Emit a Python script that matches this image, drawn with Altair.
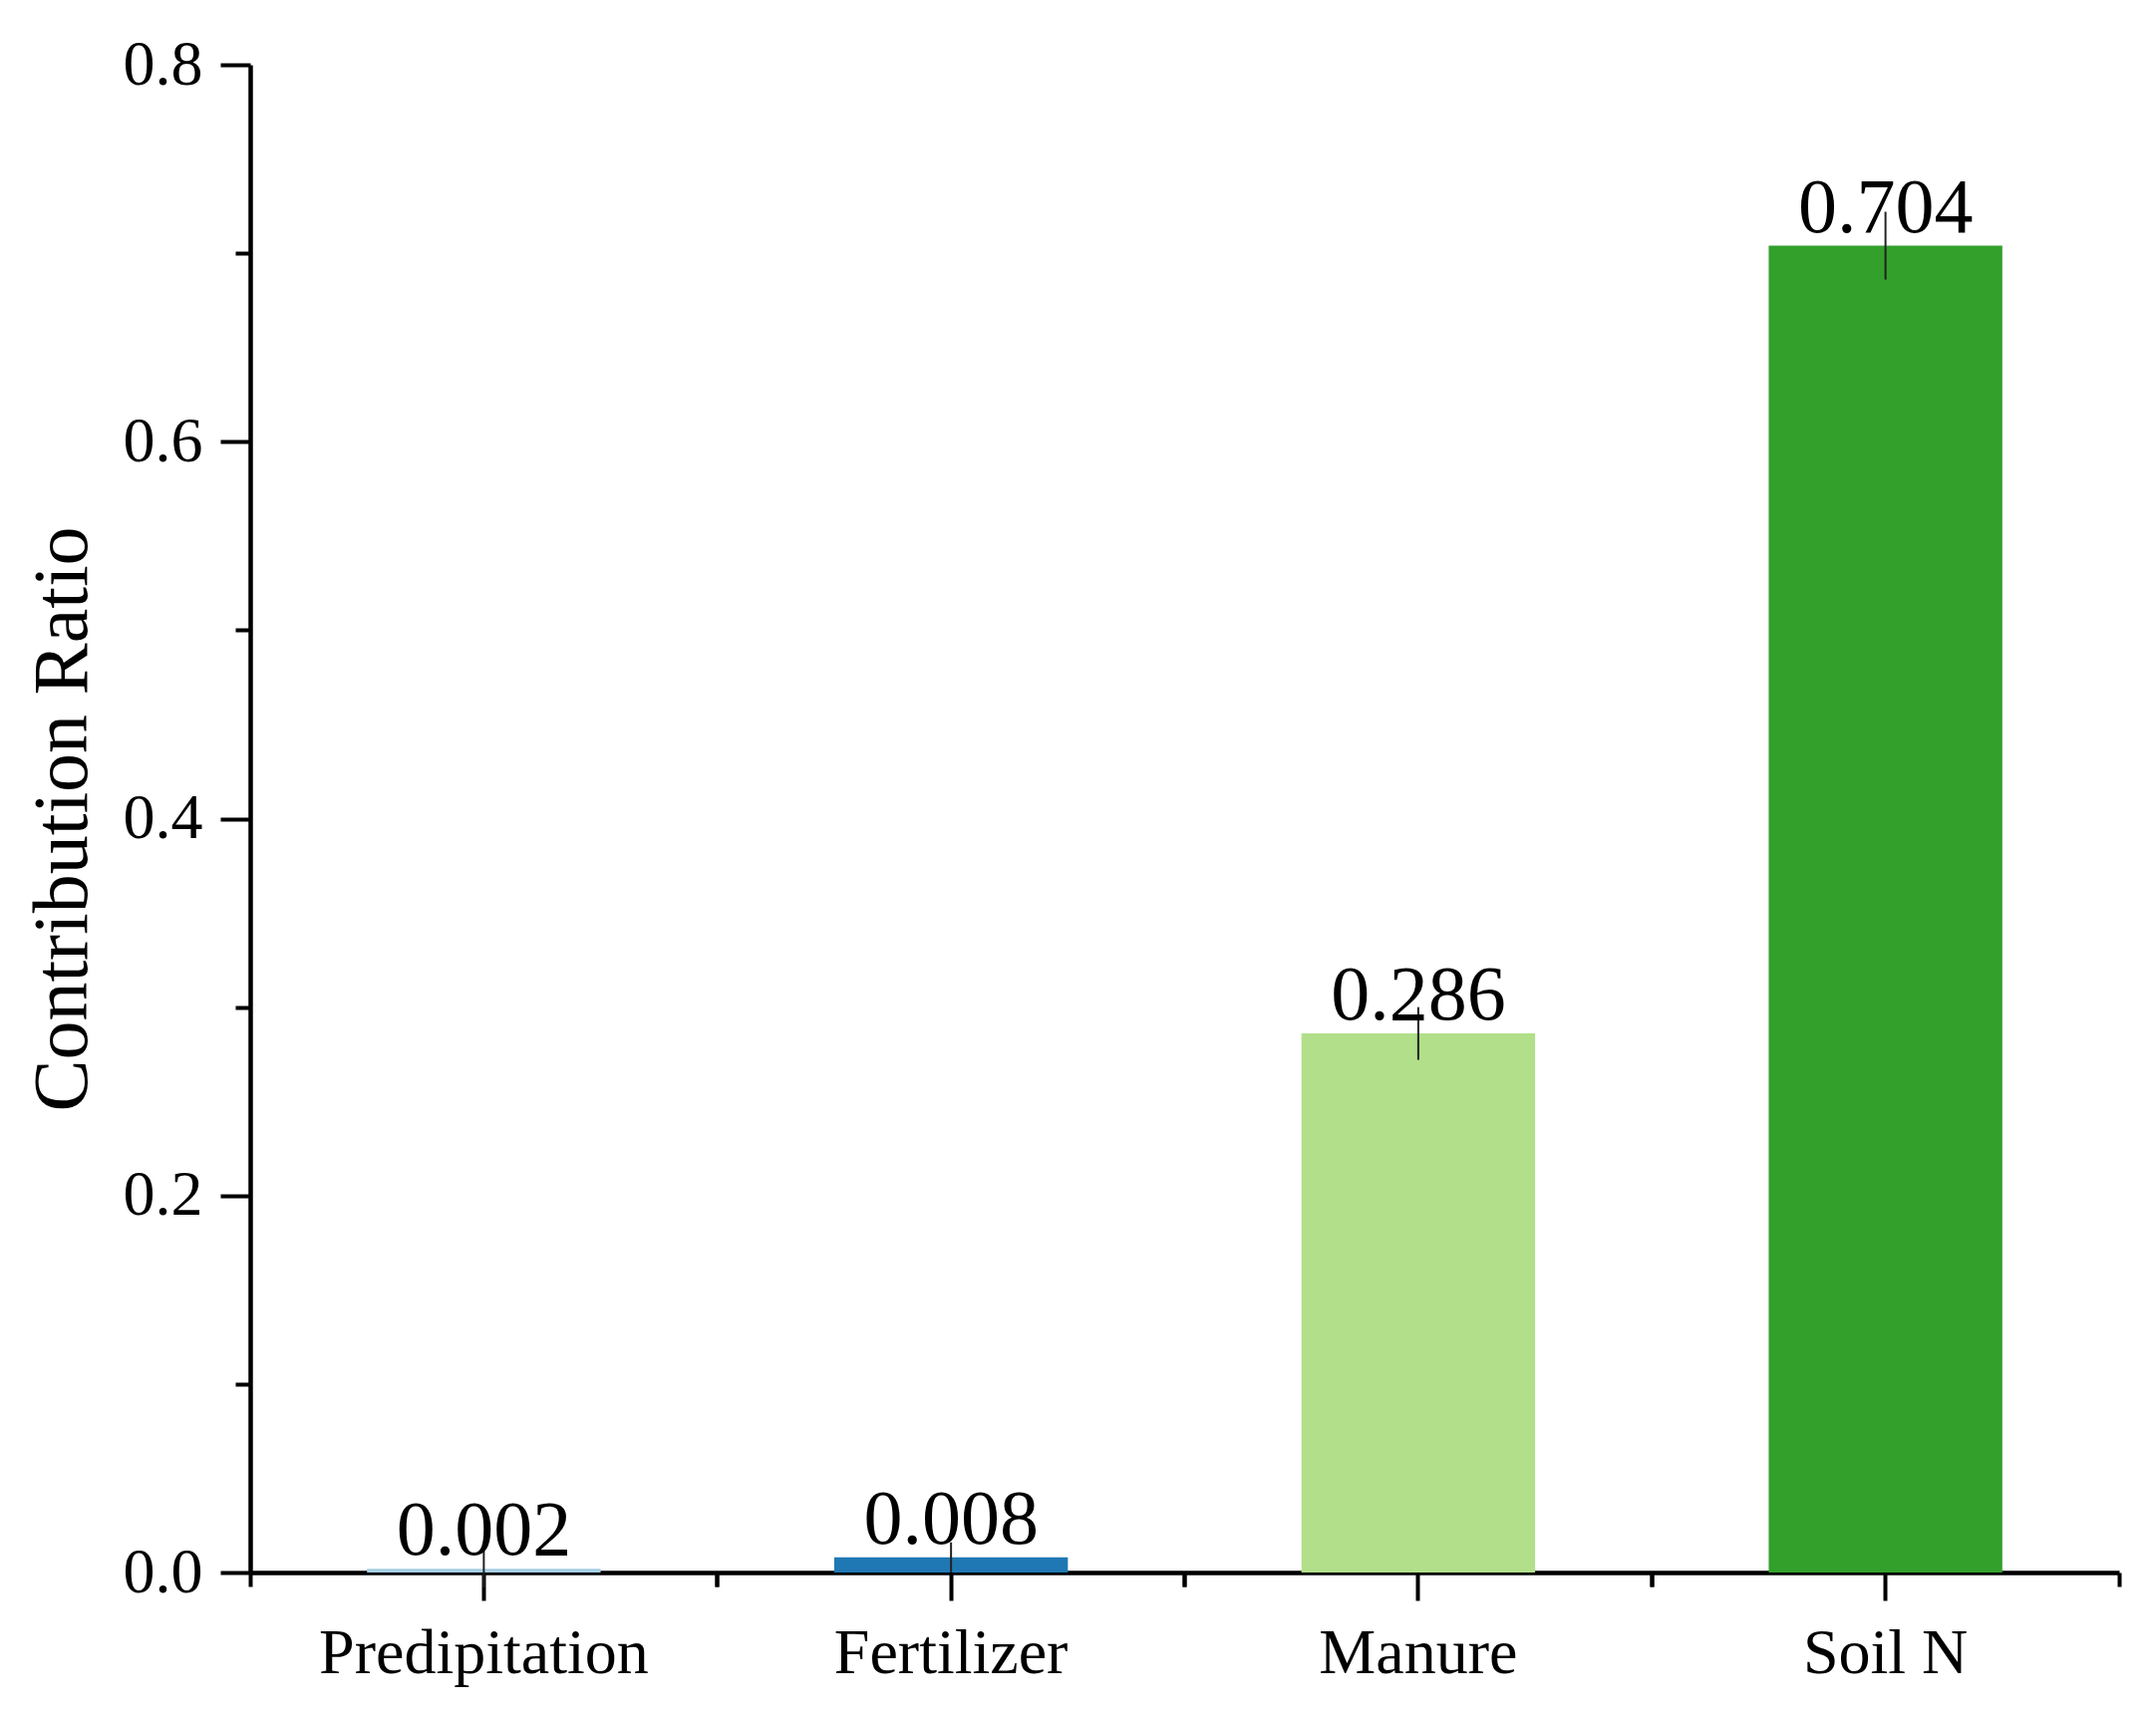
import altair as alt
import pandas as pd

categories = ["Predipitation", "Fertilizer", "Manure", "Soil N"]
values = [0.002, 0.008, 0.286, 0.704]
errors = [0.010, 0.008, 0.014, 0.018]
value_labels = ["0.002", "0.008", "0.286", "0.704"]
colors = ["#a6cee3", "#1f78b4", "#b2df8a", "#33a02c"]
y_major_ticks = [0.0, 0.2, 0.4, 0.6, 0.8]
y_minor_ticks = [0.1, 0.3, 0.5, 0.7]

df = pd.DataFrame({
    "cat": categories,
    "val": values,
    "lo": [v - e for v, e in zip(values, errors)],
    "hi": [v + e for v, e in zip(values, errors)],
    "lab": value_labels,
})

FONT = "Liberation Serif"
xscale = alt.Scale(domain=categories, paddingInner=0.5, paddingOuter=0.25)
yscale = alt.Scale(domain=[0, 0.8], nice=False, zero=True)

base = alt.Chart(df)

bars = base.mark_bar().encode(
    x=alt.X("cat:N", sort=categories, scale=xscale, title=None,
            axis=alt.Axis(orient="bottom", labelAngle=0, labelFont=FONT, labelFontSize=64,
                          labelColor="black", tickColor="black", tickSize=28, tickWidth=4,
                          domainColor="black", domainWidth=4.5, labelPadding=21,
                          labelLimit=2000, grid=False)),
    y=alt.Y("val:Q", scale=yscale, title="Contribution Ratio",
            axis=alt.Axis(orient="left", values=y_major_ticks, format=".1f", labelFont=FONT,
                          labelFontSize=64, labelColor="black", tickColor="black",
                          tickSize=30, tickWidth=4, domainColor="black", domainWidth=4.5,
                          labelPadding=18, titleFont=FONT, titleFontSize=78,
                          titleFontWeight="normal", titleColor="black", titlePadding=21,
                          grid=False)),
    color=alt.Color("cat:N", scale=alt.Scale(domain=categories, range=colors), legend=None),
)

minor_left = base.mark_bar(opacity=0).encode(
    x=alt.X("cat:N", sort=categories, scale=xscale, title=None,
            axis=alt.Axis(orient="bottom", labels=False, domain=False, bandPosition=-0.5,
                          tickColor="black", tickSize=14, tickWidth=4, grid=False)),
    y=alt.Y("val:Q", scale=yscale, title=None,
            axis=alt.Axis(orient="left", values=y_minor_ticks, labels=False, domain=False,
                          tickColor="black", tickSize=15, tickWidth=4, grid=False)),
)

minor_right = base.mark_bar(opacity=0).encode(
    x=alt.X("cat:N", sort=categories, scale=xscale, title=None,
            axis=alt.Axis(orient="bottom", labels=False, domain=False, bandPosition=1.5,
                          tickColor="black", tickSize=14, tickWidth=4, grid=False)),
    y=alt.Y("val:Q", scale=yscale, axis=None),
)

err = base.mark_rule(color="#222222", strokeWidth=2).encode(
    x=alt.X("cat:N", sort=categories, scale=xscale, axis=None),
    y=alt.Y("lo:Q", scale=yscale, axis=None),
    y2="hi:Q",
)

text = base.mark_text(font=FONT, fontSize=78, color="black", baseline="alphabetic", dy=-14).encode(
    x=alt.X("cat:N", sort=categories, scale=xscale, axis=None),
    y=alt.Y("val:Q", scale=yscale, axis=None),
    text="lab:N",
)

chart = alt.layer(bars, minor_left, minor_right, err, text).resolve_axis(
    x="independent", y="independent"
).properties(
    width=1875, height=1513, background="white",
    padding={"left": 16, "top": 25, "right": 10, "bottom": 10}
).configure_view(stroke=None, strokeWidth=0)

chart.save("out.html", embed_options={"renderer": "svg", "actions": False})
